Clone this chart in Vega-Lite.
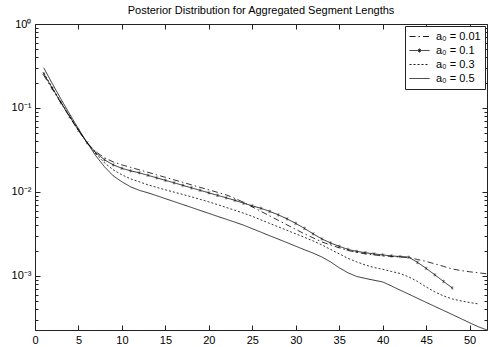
{
  "$schema": "https://vega.github.io/schema/vega-lite/v6.json",
  "width": 452,
  "height": 306,
  "autosize": {"type": "none"},
  "padding": {"left": 35, "top": 24, "right": 4, "bottom": 17},
  "background": "white",
  "title": {"text": "Posterior Distribution for Aggregated Segment Lengths", "anchor": "middle", "frame": "group", "font": "Liberation Sans", "fontSize": 11, "fontWeight": "normal", "color": "black", "baseline": "alphabetic", "offset": 7, "dy": 14},
  "config": {
    "view": {"stroke": "#222", "strokeWidth": 1},
    "axis": {"labelFont": "Liberation Sans", "labelFontSize": 11, "labelColor": "black", "tickColor": "#222", "domain": false, "grid": false, "title": null, "minExtent": 0},
    "legend": {"labelFont": "Liberation Sans", "labelFontSize": 11, "labelColor": "black"}
  },
  "datasets": {
    "d": [
      {"s":"a₀ = 0.01","x":1,"y":0.2454},{"s":"a₀ = 0.01","x":2,"y":0.167},{"s":"a₀ = 0.01","x":3,"y":0.1138},{"s":"a₀ = 0.01","x":4,"y":0.0775},{"s":"a₀ = 0.01","x":5,"y":0.0535},{"s":"a₀ = 0.01","x":6,"y":0.0385},{"s":"a₀ = 0.01","x":7,"y":0.0301},{"s":"a₀ = 0.01","x":8,"y":0.0255},{"s":"a₀ = 0.01","x":9,"y":0.0228},{"s":"a₀ = 0.01","x":10,"y":0.021},{"s":"a₀ = 0.01","x":11,"y":0.01964},{"s":"a₀ = 0.01","x":12,"y":0.01834},{"s":"a₀ = 0.01","x":13,"y":0.01712},{"s":"a₀ = 0.01","x":14,"y":0.01599},{"s":"a₀ = 0.01","x":15,"y":0.01493},{"s":"a₀ = 0.01","x":16,"y":0.01394},{"s":"a₀ = 0.01","x":17,"y":0.01302},{"s":"a₀ = 0.01","x":18,"y":0.01215},{"s":"a₀ = 0.01","x":19,"y":0.01134},{"s":"a₀ = 0.01","x":20,"y":0.01059},{"s":"a₀ = 0.01","x":21,"y":0.00989},{"s":"a₀ = 0.01","x":22,"y":0.00923},{"s":"a₀ = 0.01","x":23,"y":0.00839},{"s":"a₀ = 0.01","x":24,"y":0.00752},{"s":"a₀ = 0.01","x":25,"y":0.00664},{"s":"a₀ = 0.01","x":26,"y":0.00587},{"s":"a₀ = 0.01","x":27,"y":0.00519},{"s":"a₀ = 0.01","x":28,"y":0.00459},{"s":"a₀ = 0.01","x":29,"y":0.00405},{"s":"a₀ = 0.01","x":30,"y":0.00358},{"s":"a₀ = 0.01","x":31,"y":0.00317},{"s":"a₀ = 0.01","x":32,"y":0.00284},{"s":"a₀ = 0.01","x":33,"y":0.00254},{"s":"a₀ = 0.01","x":34,"y":0.00234},{"s":"a₀ = 0.01","x":35,"y":0.00216},{"s":"a₀ = 0.01","x":36,"y":0.00201},{"s":"a₀ = 0.01","x":37,"y":0.00191},{"s":"a₀ = 0.01","x":38,"y":0.00183},{"s":"a₀ = 0.01","x":39,"y":0.00178},{"s":"a₀ = 0.01","x":40,"y":0.00173},{"s":"a₀ = 0.01","x":41,"y":0.00171},{"s":"a₀ = 0.01","x":42,"y":0.00168},{"s":"a₀ = 0.01","x":43,"y":0.00166},{"s":"a₀ = 0.01","x":44,"y":0.00157},{"s":"a₀ = 0.01","x":45,"y":0.00149},{"s":"a₀ = 0.01","x":46,"y":0.00139},{"s":"a₀ = 0.01","x":47,"y":0.0013},{"s":"a₀ = 0.01","x":48,"y":0.00121},{"s":"a₀ = 0.01","x":49,"y":0.00116},{"s":"a₀ = 0.01","x":50,"y":0.00112},{"s":"a₀ = 0.01","x":51,"y":0.00109},{"s":"a₀ = 0.01","x":52,"y":0.00106},
      {"s":"a₀ = 0.1","x":1,"y":0.2557},{"s":"a₀ = 0.1","x":2,"y":0.1717},{"s":"a₀ = 0.1","x":3,"y":0.1153},{"s":"a₀ = 0.1","x":4,"y":0.0785},{"s":"a₀ = 0.1","x":5,"y":0.0542},{"s":"a₀ = 0.1","x":6,"y":0.0385},{"s":"a₀ = 0.1","x":7,"y":0.0292},{"s":"a₀ = 0.1","x":8,"y":0.0241},{"s":"a₀ = 0.1","x":9,"y":0.021},{"s":"a₀ = 0.1","x":10,"y":0.0191},{"s":"a₀ = 0.1","x":11,"y":0.01784},{"s":"a₀ = 0.1","x":12,"y":0.01689},{"s":"a₀ = 0.1","x":13,"y":0.01577},{"s":"a₀ = 0.1","x":14,"y":0.01472},{"s":"a₀ = 0.1","x":15,"y":0.01375},{"s":"a₀ = 0.1","x":16,"y":0.01284},{"s":"a₀ = 0.1","x":17,"y":0.01199},{"s":"a₀ = 0.1","x":18,"y":0.01119},{"s":"a₀ = 0.1","x":19,"y":0.01045},{"s":"a₀ = 0.1","x":20,"y":0.00976},{"s":"a₀ = 0.1","x":21,"y":0.00911},{"s":"a₀ = 0.1","x":22,"y":0.00851},{"s":"a₀ = 0.1","x":23,"y":0.00794},{"s":"a₀ = 0.1","x":24,"y":0.00735},{"s":"a₀ = 0.1","x":25,"y":0.00683},{"s":"a₀ = 0.1","x":26,"y":0.00638},{"s":"a₀ = 0.1","x":27,"y":0.00587},{"s":"a₀ = 0.1","x":28,"y":0.00533},{"s":"a₀ = 0.1","x":29,"y":0.00478},{"s":"a₀ = 0.1","x":30,"y":0.00422},{"s":"a₀ = 0.1","x":31,"y":0.00368},{"s":"a₀ = 0.1","x":32,"y":0.00317},{"s":"a₀ = 0.1","x":33,"y":0.00276},{"s":"a₀ = 0.1","x":34,"y":0.00247},{"s":"a₀ = 0.1","x":35,"y":0.00225},{"s":"a₀ = 0.1","x":36,"y":0.00207},{"s":"a₀ = 0.1","x":37,"y":0.00196},{"s":"a₀ = 0.1","x":38,"y":0.00189},{"s":"a₀ = 0.1","x":39,"y":0.00183},{"s":"a₀ = 0.1","x":40,"y":0.00178},{"s":"a₀ = 0.1","x":41,"y":0.00173},{"s":"a₀ = 0.1","x":42,"y":0.0017},{"s":"a₀ = 0.1","x":43,"y":0.00167},{"s":"a₀ = 0.1","x":44,"y":0.00145},{"s":"a₀ = 0.1","x":45,"y":0.00123},{"s":"a₀ = 0.1","x":46,"y":0.00103},{"s":"a₀ = 0.1","x":47,"y":0.00086},{"s":"a₀ = 0.1","x":48,"y":0.000719},
      {"s":"a₀ = 0.3","x":1,"y":0.2627},{"s":"a₀ = 0.3","x":2,"y":0.1741},{"s":"a₀ = 0.3","x":3,"y":0.1169},{"s":"a₀ = 0.3","x":4,"y":0.0796},{"s":"a₀ = 0.3","x":5,"y":0.055},{"s":"a₀ = 0.3","x":6,"y":0.0385},{"s":"a₀ = 0.3","x":7,"y":0.0284},{"s":"a₀ = 0.3","x":8,"y":0.0222},{"s":"a₀ = 0.3","x":9,"y":0.01834},{"s":"a₀ = 0.3","x":10,"y":0.01599},{"s":"a₀ = 0.3","x":11,"y":0.01432},{"s":"a₀ = 0.3","x":12,"y":0.0132},{"s":"a₀ = 0.3","x":13,"y":0.01215},{"s":"a₀ = 0.3","x":14,"y":0.01134},{"s":"a₀ = 0.3","x":15,"y":0.01059},{"s":"a₀ = 0.3","x":16,"y":0.00995},{"s":"a₀ = 0.3","x":17,"y":0.00934},{"s":"a₀ = 0.3","x":18,"y":0.00874},{"s":"a₀ = 0.3","x":19,"y":0.00816},{"s":"a₀ = 0.3","x":20,"y":0.00762},{"s":"a₀ = 0.3","x":21,"y":0.00706},{"s":"a₀ = 0.3","x":22,"y":0.00654},{"s":"a₀ = 0.3","x":23,"y":0.00605},{"s":"a₀ = 0.3","x":24,"y":0.00559},{"s":"a₀ = 0.3","x":25,"y":0.00512},{"s":"a₀ = 0.3","x":26,"y":0.00465},{"s":"a₀ = 0.3","x":27,"y":0.00422},{"s":"a₀ = 0.3","x":28,"y":0.00384},{"s":"a₀ = 0.3","x":29,"y":0.00349},{"s":"a₀ = 0.3","x":30,"y":0.00317},{"s":"a₀ = 0.3","x":31,"y":0.00288},{"s":"a₀ = 0.3","x":32,"y":0.00261},{"s":"a₀ = 0.3","x":33,"y":0.00234},{"s":"a₀ = 0.3","x":34,"y":0.00207},{"s":"a₀ = 0.3","x":35,"y":0.00183},{"s":"a₀ = 0.3","x":36,"y":0.00162},{"s":"a₀ = 0.3","x":37,"y":0.00147},{"s":"a₀ = 0.3","x":38,"y":0.00135},{"s":"a₀ = 0.3","x":39,"y":0.00126},{"s":"a₀ = 0.3","x":40,"y":0.0012},{"s":"a₀ = 0.3","x":41,"y":0.00113},{"s":"a₀ = 0.3","x":42,"y":0.00107},{"s":"a₀ = 0.3","x":43,"y":0.000973},{"s":"a₀ = 0.3","x":44,"y":0.00086},{"s":"a₀ = 0.3","x":45,"y":0.000739},{"s":"a₀ = 0.3","x":46,"y":0.000645},{"s":"a₀ = 0.3","x":47,"y":0.000578},{"s":"a₀ = 0.3","x":48,"y":0.000532},{"s":"a₀ = 0.3","x":49,"y":0.000504},{"s":"a₀ = 0.3","x":50,"y":0.000483},{"s":"a₀ = 0.3","x":51,"y":0.000464},
      {"s":"a₀ = 0.5","x":1,"y":0.3013},{"s":"a₀ = 0.5","x":2,"y":0.1943},{"s":"a₀ = 0.5","x":3,"y":0.1269},{"s":"a₀ = 0.5","x":4,"y":0.0841},{"s":"a₀ = 0.5","x":5,"y":0.0565},{"s":"a₀ = 0.5","x":6,"y":0.0385},{"s":"a₀ = 0.5","x":7,"y":0.0269},{"s":"a₀ = 0.5","x":8,"y":0.0199},{"s":"a₀ = 0.5","x":9,"y":0.01555},{"s":"a₀ = 0.5","x":10,"y":0.0132},{"s":"a₀ = 0.5","x":11,"y":0.0115},{"s":"a₀ = 0.5","x":12,"y":0.01045},{"s":"a₀ = 0.5","x":13,"y":0.00976},{"s":"a₀ = 0.5","x":14,"y":0.00903},{"s":"a₀ = 0.5","x":15,"y":0.00832},{"s":"a₀ = 0.5","x":16,"y":0.00768},{"s":"a₀ = 0.5","x":17,"y":0.00708},{"s":"a₀ = 0.5","x":18,"y":0.00654},{"s":"a₀ = 0.5","x":19,"y":0.00602},{"s":"a₀ = 0.5","x":20,"y":0.00556},{"s":"a₀ = 0.5","x":21,"y":0.00512},{"s":"a₀ = 0.5","x":22,"y":0.00473},{"s":"a₀ = 0.5","x":23,"y":0.00437},{"s":"a₀ = 0.5","x":24,"y":0.00402},{"s":"a₀ = 0.5","x":25,"y":0.00365},{"s":"a₀ = 0.5","x":26,"y":0.00332},{"s":"a₀ = 0.5","x":27,"y":0.00301},{"s":"a₀ = 0.5","x":28,"y":0.00274},{"s":"a₀ = 0.5","x":29,"y":0.00249},{"s":"a₀ = 0.5","x":30,"y":0.00226},{"s":"a₀ = 0.5","x":31,"y":0.00205},{"s":"a₀ = 0.5","x":32,"y":0.00187},{"s":"a₀ = 0.5","x":33,"y":0.00168},{"s":"a₀ = 0.5","x":34,"y":0.00147},{"s":"a₀ = 0.5","x":35,"y":0.00125},{"s":"a₀ = 0.5","x":36,"y":0.00109},{"s":"a₀ = 0.5","x":37,"y":0.000986},{"s":"a₀ = 0.5","x":38,"y":0.000934},{"s":"a₀ = 0.5","x":39,"y":0.000889},{"s":"a₀ = 0.5","x":40,"y":0.000848},{"s":"a₀ = 0.5","x":41,"y":0.00076},{"s":"a₀ = 0.5","x":42,"y":0.000677},{"s":"a₀ = 0.5","x":43,"y":0.000607},{"s":"a₀ = 0.5","x":44,"y":0.000542},{"s":"a₀ = 0.5","x":45,"y":0.000484},{"s":"a₀ = 0.5","x":46,"y":0.000433},{"s":"a₀ = 0.5","x":47,"y":0.000388},{"s":"a₀ = 0.5","x":48,"y":0.000347},{"s":"a₀ = 0.5","x":49,"y":0.00031},{"s":"a₀ = 0.5","x":50,"y":0.000277},{"s":"a₀ = 0.5","x":51,"y":0.000248},{"s":"a₀ = 0.5","x":52,"y":0.000227}
    ]
  },
  "data": {"name": "d"},
  "layer": [
    {
      "mark": {"type": "line", "color": "black", "strokeWidth": 0.8, "clip": true},
      "encoding": {
        "x": {"field": "x", "type": "quantitative", "scale": {"domain": [0, 52], "nice": false, "zero": false},
              "axis": {"orient": "bottom", "values": [0,5,10,15,20,25,30,35,40,45,50], "tickSize": -5, "labelPadding": 9, "labelFlush": false}},
        "y": {"field": "y", "type": "quantitative", "scale": {"type": "log", "domain": [0.000227, 1], "nice": false},
              "axis": {"orient": "left", "values": [0.001, 0.01, 0.1, 1], "tickSize": -5, "labelPadding": 9, "labelFlush": false,
                       "labelExpr": "datum.value == 1 ? '10⁰' : datum.value == 0.1 ? '10⁻¹' : datum.value == 0.01 ? '10⁻²' : '10⁻³'"}},
        "strokeDash": {"field": "s", "type": "nominal",
          "scale": {"domain": ["a₀ = 0.01", "a₀ = 0.1", "a₀ = 0.3", "a₀ = 0.5"], "range": [[6, 3, 1.5, 3], [1, 0], [2, 2], [1, 0]]},
          "legend": {"title": null, "orient": "top-right", "offset": 2, "padding": 4, "strokeColor": "#222", "fillColor": "white",
                     "cornerRadius": 0, "symbolSize": 400, "symbolStrokeWidth": 0.9, "symbolStrokeColor": "black", "labelOffset": 6, "rowPadding": 1, "clipHeight": 13,
                     "encode": {"symbols": {"update": {"shape": {"signal": "datum.index == 1 ? 'M-1,0L1,0M-0.15,-0.15L0.15,0.15M-0.15,0.15L0.15,-0.15M0,-0.2L0,0.2' : 'stroke'"}}}}}}
      }
    },
    {
      "transform": [{"filter": "datum.x > 0 && datum.s == 'a₀ = 0.1'"}],
      "mark": {"type": "point", "shape": "M-1,-1L1,1M-1,1L1,-1M0,-1.3L0,1.3", "size": 7, "filled": false, "color": "black", "strokeWidth": 0.6},
      "encoding": {
        "x": {"field": "x", "type": "quantitative", "scale": {"domain": [0, 52], "nice": false, "zero": false},
              "axis": {"orient": "top", "values": [0,5,10,15,20,25,30,35,40,45,50], "tickSize": -5, "labels": false, "maxExtent": 0}},
        "y": {"field": "y", "type": "quantitative", "scale": {"type": "log", "domain": [0.000227, 1], "nice": false},
              "axis": {"orient": "right", "values": [0.001, 0.01, 0.1, 1], "tickSize": -5, "labels": false, "maxExtent": 0}}
      }
    },
    {
      "mark": {"type": "point", "opacity": 0},
      "encoding": {
        "x": {"field": "x", "type": "quantitative", "scale": {"domain": [0, 52], "nice": false, "zero": false}, "axis": null},
        "y": {"field": "y", "type": "quantitative", "scale": {"type": "log", "domain": [0.000227, 1], "nice": false},
              "axis": {"orient": "left", "values": [0.0003,0.0004,0.0005,0.0006,0.0007,0.0008,0.0009,0.002,0.003,0.004,0.005,0.006,0.007,0.008,0.009,0.02,0.03,0.04,0.05,0.06,0.07,0.08,0.09,0.2,0.3,0.4,0.5,0.6,0.7,0.8,0.9], "tickSize": -3, "labels": false, "maxExtent": 0}}
      }
    },
    {
      "mark": {"type": "point", "opacity": 0},
      "encoding": {
        "x": {"field": "x", "type": "quantitative", "scale": {"domain": [0, 52], "nice": false, "zero": false}, "axis": null},
        "y": {"field": "y", "type": "quantitative", "scale": {"type": "log", "domain": [0.000227, 1], "nice": false},
              "axis": {"orient": "right", "values": [0.0003,0.0004,0.0005,0.0006,0.0007,0.0008,0.0009,0.002,0.003,0.004,0.005,0.006,0.007,0.008,0.009,0.02,0.03,0.04,0.05,0.06,0.07,0.08,0.09,0.2,0.3,0.4,0.5,0.6,0.7,0.8,0.9], "tickSize": -3, "labels": false, "maxExtent": 0}}
      }
    }
  ],
  "resolve": {"axis": {"x": "independent", "y": "independent"}}
}
